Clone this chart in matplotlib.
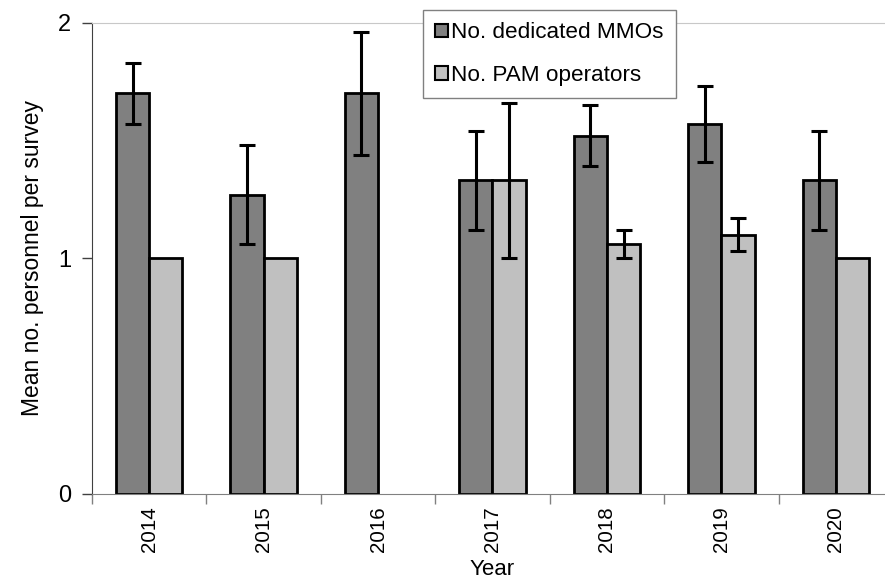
import numpy as np
import matplotlib.pyplot as plt
from matplotlib.patches import Patch

# data
years = ['2014', '2015', '2016', '2017', '2018', '2019', '2020']
mmo_mean = [1.70, 1.27, 1.70, 1.33, 1.52, 1.57, 1.33]
mmo_err = [0.13, 0.21, 0.26, 0.21, 0.13, 0.16, 0.21]
pam_mean = [1.00, 1.00, np.nan, 1.33, 1.06, 1.10, 1.00]
pam_err = [0.0, 0.0, 0.0, 0.33, 0.06, 0.07, 0.0]

plt.rcParams['font.family'] = ['Liberation Sans', 'DejaVu Sans']

fig = plt.figure(figsize=(8.85, 5.79), dpi=100)
ax = fig.add_axes([92 / 885, 1 - 494 / 579, 801 / 885, (494 - 22.5) / 579])

x = np.arange(len(years))
w = 0.29
dark = '#808080'
light = '#c0c0c0'

ax.bar(x - w / 2, mmo_mean, w, color=dark, edgecolor='black', linewidth=2, zorder=2)
ax.bar(x + w / 2, pam_mean, w, color=light, edgecolor='black', linewidth=2, zorder=2)

# error bars only where there is a spread
for xs, means, errs in [(x - w / 2, mmo_mean, mmo_err), (x + w / 2, pam_mean, pam_err)]:
    sel = [i for i in range(len(errs)) if errs[i] > 0]
    ax.errorbar(xs[sel], np.array(means)[sel], yerr=np.array(errs)[sel], fmt='none',
                ecolor='black', elinewidth=2.2, capsize=6, capthick=2.2, zorder=3)

ax.set_xlim(-0.5, 6.5)
ax.set_ylim(0, 2)
ax.set_yticks([0, 1, 2])
ax.set_yticklabels(['0', '1', '2'], fontsize=17)
ax.tick_params(axis='y', length=7, width=1, color='#404040', pad=8)

ax.set_xticks(x)
ax.set_xticklabels(years, rotation=90, fontsize=14.8)
ax.set_xticks(np.arange(-0.5, 7, 1), minor=True)
ax.tick_params(axis='x', which='major', length=0, pad=9)
ax.tick_params(axis='x', which='minor', length=7, width=1, color='#808080')

ax.spines['right'].set_visible(False)
ax.spines['top'].set_color('#c8c8c8')
ax.spines['bottom'].set_color('#808080')
ax.spines['left'].set_color('#404040')

ax.set_xlabel('Year', fontsize=16, labelpad=5)
ax.set_ylabel('Mean no. personnel per survey', fontsize=16.5, labelpad=10)

handles = [Patch(facecolor=dark, edgecolor='black', linewidth=1.5),
           Patch(facecolor=light, edgecolor='black', linewidth=1.5)]
leg = fig.legend(handles, ['No. dedicated MMOs', 'No. PAM operators'],
                 loc='upper left', bbox_to_anchor=(423 / 885, 1 - 10 / 579),
                 fontsize=16.2, fancybox=False, framealpha=1, edgecolor='#808080',
                 handlelength=0.55, handleheight=0.55, handletextpad=0.15,
                 labelspacing=0.95, borderpad=0.55, borderaxespad=0)
leg.get_frame().set_linewidth(1)

fig.savefig('out.png', dpi=100)
